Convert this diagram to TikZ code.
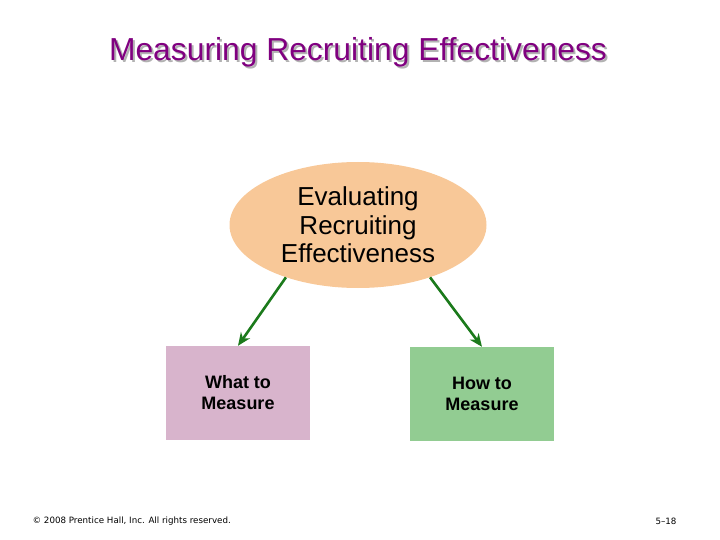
\documentclass[tikz,border=0pt]{standalone}
\usepackage{fontspec}
\setmainfont{Liberation Sans}
\newfontfamily\footfont{DejaVu Sans}
\usetikzlibrary{shapes.geometric,positioning,arrows.meta}

\definecolor{titlepurple}{HTML}{800080}
\definecolor{peach}{HTML}{F8C898}
\definecolor{mauve}{HTML}{D8B4CC}
\definecolor{leaf}{HTML}{92CC92}
\definecolor{arrowgreen}{HTML}{1B7A1B}

\begin{document}
\begin{tikzpicture}[x=1pt,y=-1pt,>={Stealth[length=13pt,width=11pt]},on grid,
    box/.style={rectangle,minimum width=144pt,minimum height=94pt,align=center,
      font=\fontsize{18}{21}\selectfont\bfseries},
    link/.style={->,draw=arrowgreen,line width=2.6pt}]
  \useasboundingbox (0,0) rectangle (720,540);

  % title with its shadow
  \node[text=black!30] (shadow) at (360,54) {\fontsize{31.8}{36}\selectfont Measuring Recruiting Effectiveness};
  \node[text=titlepurple] (title) at (358,52) {\fontsize{31.8}{36}\selectfont Measuring Recruiting Effectiveness};

  \node[ellipse,fill=peach,minimum width=257pt,minimum height=126pt,inner sep=0pt,align=center,
    font=\fontsize{26}{28.5}\selectfont] (eval) at (358,225) {Evaluating\\Recruiting\\Effectiveness};
  \node[box,fill=mauve] (what) [below left=168pt and 120pt of eval] {What to\\Measure};
  \node[box,fill=leaf] (how) [below right=169pt and 124pt of eval] {How to\\Measure};

  \draw[link] (eval.216) -- (what.north);
  \draw[link] (eval.324) -- (how.north);

  % footer
  \node[anchor=west,font=\footfont\fontsize{8.7}{10}\selectfont] (copy) at (29,521) {\textcopyright{} 2008 Prentice Hall, Inc. All rights reserved.};
  \node[anchor=east,font=\footfont\fontsize{8.7}{10}\selectfont] (page) at (680,521) {5–18};
\end{tikzpicture}
\end{document}
